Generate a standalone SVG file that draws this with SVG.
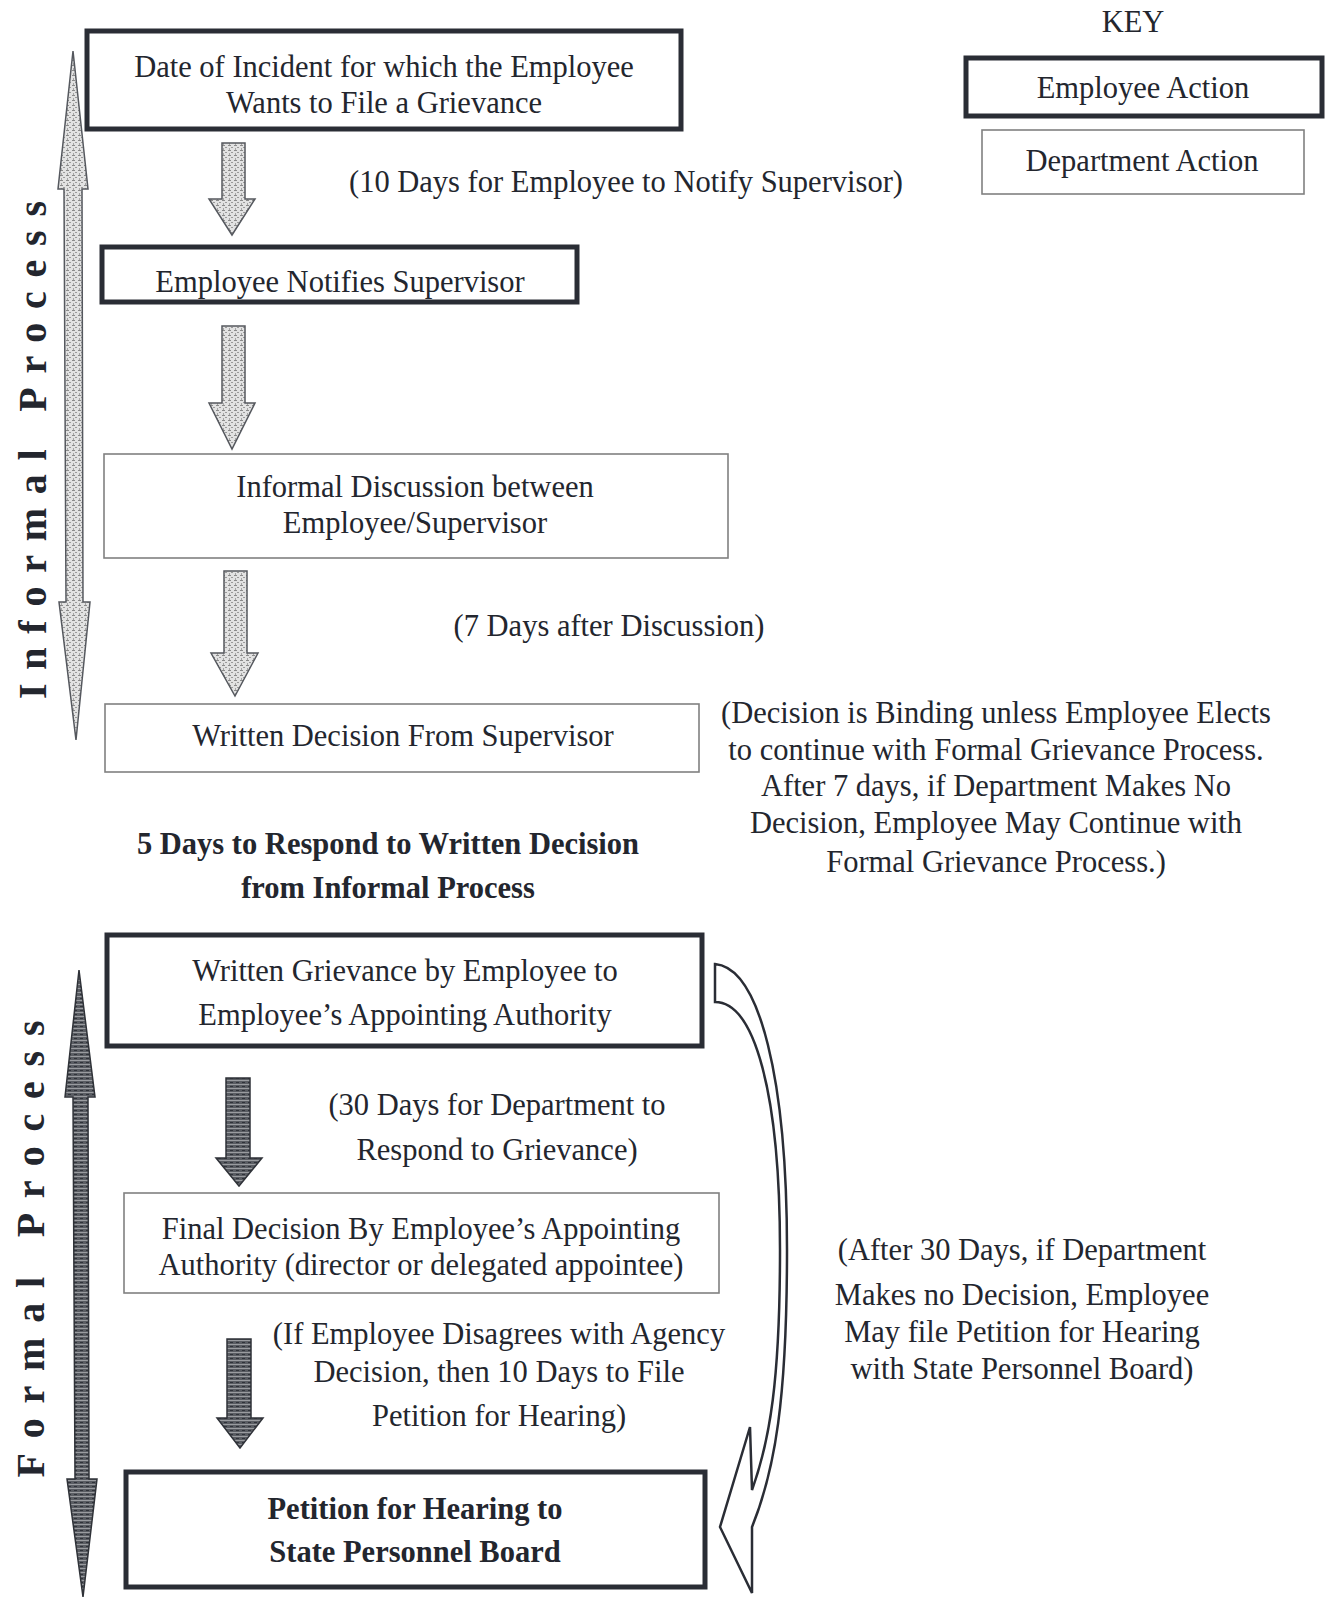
<svg xmlns="http://www.w3.org/2000/svg" width="1327" height="1599" viewBox="0 0 1327 1599">
<style>
text{font-family:"Liberation Serif","Times New Roman",serif;fill:#23262e;font-size:30.5px;text-anchor:middle}
.b{font-weight:bold}
.side{font-weight:bold;font-size:40px}
.emp{fill:#fff;stroke:#2a2d35;stroke-width:5}
.dep{fill:#fff;stroke:#808080;stroke-width:1.6}
.arL{fill:url(#hatchL);stroke:#55585e;stroke-width:1.5}
.arD{fill:url(#hatchD);stroke:#2f3238;stroke-width:1.5}
.curve{fill:#fff;stroke:#2a2d35;stroke-width:2.5;stroke-linejoin:miter}
</style>
<defs>
<pattern id="hatchL" width="6" height="5" patternUnits="userSpaceOnUse">
<rect width="6" height="5" fill="#e2e2e2"/>
<rect x="0" y="0" width="3" height="1" fill="#8a8a8a"/>
<rect x="3" y="2" width="2" height="1" fill="#9a9a9a"/>
<rect x="1" y="3" width="1" height="2" fill="#a5a5a5"/>
</pattern>
<pattern id="hatchD" width="6" height="4" patternUnits="userSpaceOnUse">
<rect width="6" height="4" fill="#5a5d63"/>
<rect x="0" y="0" width="6" height="1" fill="#9a9ca0"/>
<rect x="2" y="2" width="3" height="1" fill="#30333a"/>
</pattern>
</defs>

<g id="key">
<text x="1133" y="32">KEY</text>
<g id="key-employee"><rect class="emp" x="966" y="58" width="356" height="58"/><text x="1143" y="98">Employee Action</text></g>
<g id="key-department"><rect class="dep" x="982" y="130" width="322" height="64"/><text x="1142" y="171">Department Action</text></g>
</g>

<g id="informal-label">
<polygon class="arL" points="73,51 88,189 82,189 83,602 90,602 76,740 59,602 66,602 64,189 58,189"/>
<text class="side" transform="translate(46,450) rotate(-90)" textLength="498" lengthAdjust="spacing">Informal Process</text>
</g>

<g id="formal-label">
<polygon class="arD" points="79,970 95,1097 88,1097 89,1479 97,1479 83,1597 67,1479 75,1479 73,1097 65,1097"/>
<text class="side" transform="translate(44,1249) rotate(-90)" textLength="457" lengthAdjust="spacing">Formal Process</text>
</g>

<g id="n1"><rect class="emp" x="87" y="31" width="594" height="98"/>
<text x="384" y="77">Date of  Incident for which the Employee</text>
<text x="384" y="113">Wants to File a Grievance</text></g>

<g id="n2"><rect class="emp" x="102" y="247" width="475" height="55"/>
<text x="340" y="292">Employee Notifies Supervisor</text></g>

<g id="n3"><rect class="dep" x="104" y="454" width="624" height="104"/>
<text x="415" y="497">Informal Discussion between</text>
<text x="415" y="533">Employee/Supervisor</text></g>

<g id="n4"><rect class="dep" x="105" y="704" width="594" height="68"/>
<text x="403" y="746">Written Decision From Supervisor</text></g>

<g id="n5"><rect class="emp" x="107" y="935" width="595" height="111"/>
<text x="405" y="981">Written Grievance by Employee to</text>
<text x="405" y="1025">Employee’s Appointing Authority</text></g>

<g id="n6"><rect class="dep" x="124" y="1193" width="595" height="100"/>
<text x="421" y="1239">Final Decision By Employee’s Appointing</text>
<text x="421" y="1275">Authority (director or delegated appointee)</text></g>

<g id="n7"><rect class="emp" x="126" y="1472" width="579" height="115"/>
<text class="b" x="415" y="1519">Petition for Hearing to</text>
<text class="b" x="415" y="1562">State Personnel Board</text></g>

<g id="notes">
<text x="626" y="192">(10 Days for Employee to Notify Supervisor)</text>
<text x="609" y="636">(7 Days after Discussion)</text>
<text x="996" y="723">(Decision is Binding unless Employee Elects</text>
<text x="996" y="760">to continue with Formal Grievance Process.</text>
<text x="996" y="796">After 7 days, if Department Makes No</text>
<text x="996" y="833">Decision, Employee May Continue with</text>
<text x="996" y="872">Formal Grievance Process.)</text>
<text class="b" x="388" y="854">5 Days to Respond to Written Decision</text>
<text class="b" x="388" y="898">from Informal Process</text>
<text x="497" y="1115">(30 Days for Department to</text>
<text x="497" y="1160">Respond to Grievance)</text>
<text x="499" y="1344">(If Employee Disagrees with Agency</text>
<text x="499" y="1382">Decision, then 10 Days to File</text>
<text x="499" y="1426">Petition for Hearing)</text>
<text x="1022" y="1260">(After 30 Days, if Department</text>
<text x="1022" y="1305">Makes no Decision, Employee</text>
<text x="1022" y="1342">May file Petition for Hearing</text>
<text x="1022" y="1379">with State Personnel Board)</text>
</g>

<g id="connectors">
<polygon class="arL" points="222,143 245,143 245,199 255,199 232,235 209,199 222,199"/>
<polygon class="arL" points="222,326 245,326 245,403 255,403 232,449 209,403 222,403"/>
<polygon class="arL" points="224,571 247,571 247,653 258,653 235,696 211,653 224,653"/>
<polygon class="arD" points="226,1078 250,1078 250,1158 262,1158 239,1186 216,1158 226,1158"/>
<polygon class="arD" points="227,1339 251,1339 251,1418 263,1418 240,1448 217,1418 227,1418"/>
<path class="curve" d="M715,964 C760,968 787,1080 787,1250 C787,1400 775,1470 752,1527 L752,1593 L720,1527 L750,1427 L752,1490 C770,1440 780,1380 780,1250 C780,1095 755,1002 715,1002 Z"/>
</g>
</svg>
